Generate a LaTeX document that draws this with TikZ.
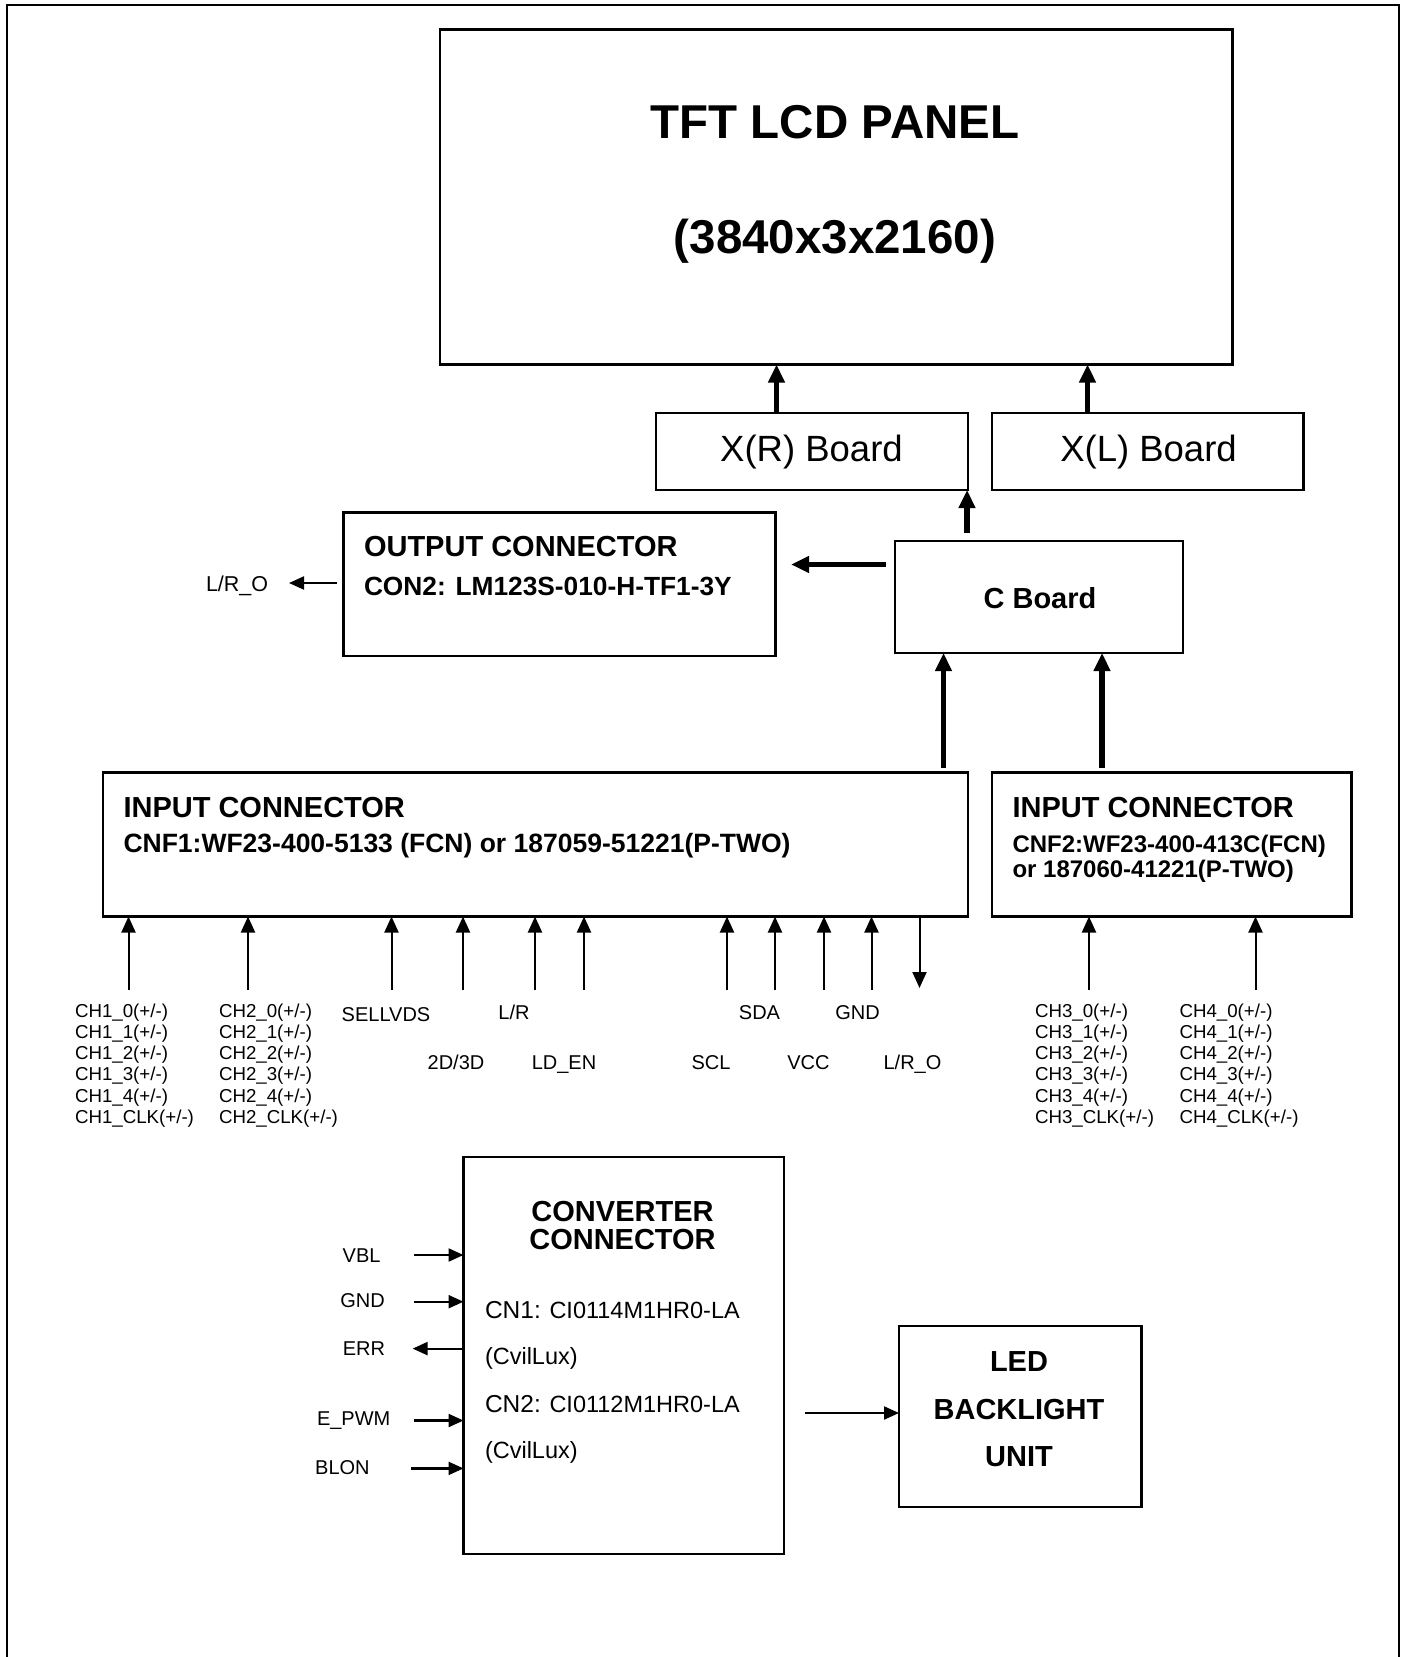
\documentclass[tikz,border=0pt]{standalone}
\usepackage{fontspec}
\setmainfont{Liberation Sans}
\usetikzlibrary{arrows.meta}
\newcommand\myfs[1]{\fontsize{#1}{#1}\selectfont}
\begin{document}
\begin{tikzpicture}[x=1pt,y=-1pt,
  box/.style={draw, line width=2.5pt, inner sep=0pt, outer sep=0pt},
  txt/.style={inner sep=0pt, outer sep=0pt},
  ttl/.style={txt, font=\myfs{29}\bfseries},
  chl/.style={txt, anchor=base west, font=\myfs{18.7}},
  sig/.style={txt, anchor=base, font=\myfs{20}},
  tarrow/.style={line width=5.5pt, -{Triangle[length=18pt,width=16pt]}},
  sarrow/.style={line width=2pt, -{Triangle[length=16pt,width=14pt]}},
  larrow/.style={line width=2.2pt, -{Triangle[length=15pt,width=13pt]}},
]
\useasboundingbox (0,0) rectangle (1403,1657);
% frame
\draw[line width=2pt] (7,1680) -- (7,4.5) -- (1399,4.5) -- (1399,1680);

% boxes
\node[box, minimum width=792.5pt, minimum height=335pt] (panel) at (836.25,197) {};
\node[box, minimum width=312pt, minimum height=77pt] (xr) at (812,451.5) {};
\node[box, minimum width=311.5pt, minimum height=77pt] (xl) at (1147.75,451.5) {};
\node[box, minimum width=432pt, minimum height=143.5pt] (out) at (559.5,584.25) {};
\node[box, minimum width=288pt, minimum height=112pt] (cb) at (1039,597) {};
\node[box, minimum width=865pt, minimum height=144pt] (in1) at (535.5,844.5) {};
\node[box, minimum width=359.5pt, minimum height=144pt] (in2) at (1171.75,844.5) {};
\node[box, minimum width=320.5pt, minimum height=397pt] (conv) at (623.75,1355.5) {};
\node[box, minimum width=242.5pt, minimum height=181pt] (led) at (1020.25,1416.5) {};

% texts
\node[txt, anchor=base, font=\myfs{47.5}\bfseries] (panelA) at (835,138) {TFT LCD PANEL};
\node[txt, anchor=base, font=\myfs{47.5}\bfseries] (panelB) at (835,253) {(3840x3x2160)};
\node[txt, anchor=base, font=\myfs{36.5}] (xrT) at (811.5,461) {X(R) Board};
\node[txt, anchor=base, font=\myfs{36.5}] (xlT) at (1148.5,461) {X(L) Board};
\node[ttl, anchor=base west] (outA) at (364,556) {OUTPUT CONNECTOR};
\node[txt, anchor=base west, font=\myfs{26.3}\bfseries] (outB) at (364,595) {CON2: LM123S-010-H-TF1-3Y};
\node[ttl, anchor=base] (cbT) at (1040,608) {C Board};
\node[ttl, anchor=base west] (in1A) at (123.5,817) {INPUT CONNECTOR};
\node[txt, anchor=base west, font=\myfs{26.5}\bfseries] (in1B) at (123.5,852) {CNF1:WF23-400-5133 (FCN) or 187059-51221(P-TWO)};
\node[ttl, anchor=base west] (in2A) at (1012.5,817) {INPUT CONNECTOR};
\node[txt, anchor=base west, font=\myfs{24}\bfseries] (in2B) at (1012.5,852.5) {CNF2:WF23-400-413C(FCN)};
\node[txt, anchor=base west, font=\myfs{24}\bfseries] (in2C) at (1012.5,877) {or 187060-41221(P-TWO)};
\node[txt, anchor=base west, font=\myfs{21.5}] (lro) at (206,591.5) {L/R\_O};

\node[ttl, anchor=base] (convA) at (622.5,1221) {CONVERTER};
\node[ttl, anchor=base] (convB) at (622.5,1249) {CONNECTOR};
\node[txt, anchor=base west, font=\myfs{23.5}] (cn1) at (485,1318) {{\myfs{24.5}CN1:} CI0114M1HR0-LA};
\node[txt, anchor=base west, font=\myfs{23.5}] (cv1) at (485,1364) {(CvilLux)};
\node[txt, anchor=base west, font=\myfs{23.5}] (cn2) at (485,1412) {{\myfs{24.5}CN2:} CI0112M1HR0-LA};
\node[txt, anchor=base west, font=\myfs{23.5}] (cv2) at (485,1458.5) {(CvilLux)};
\node[ttl, anchor=base] (ledA) at (1019,1371) {LED};
\node[ttl, anchor=base] (ledB) at (1019,1419) {BACKLIGHT};
\node[ttl, anchor=base] (ledC) at (1019,1466) {UNIT};

% channel labels
\foreach \t [count=\i from 0] in {0,1,2,3,4,CLK} {
  \node[chl] (ca\i) at (75,1017+21.3*\i) {CH1\_\t(+/-)};
  \node[chl] (cb\i) at (219,1017+21.3*\i) {CH2\_\t(+/-)};
  \node[chl] (cc\i) at (1035,1017+21.3*\i) {CH3\_\t(+/-)};
  \node[chl] (cd\i) at (1179.5,1017+21.3*\i) {CH4\_\t(+/-)};
}
\node[sig] (sel) at (386,1021.5) {SELLVDS};
\node[sig] (lr) at (514,1019.3) {L/R};
\node[sig] (sda) at (759.5,1019.3) {SDA};
\node[sig] (gnd) at (857.5,1019.3) {GND};
\node[sig] (dd) at (456,1069) {2D/3D};
\node[sig] (lden) at (564,1069) {LD\_EN};
\node[sig] (scl) at (711,1069) {SCL};
\node[sig] (vcc) at (808.5,1069) {VCC};
\node[sig] (lro2) at (912.5,1069) {L/R\_O};

% converter side labels
\node[sig] (vbl) at (361.6,1262) {VBL};
\node[sig] (gnd2) at (362.6,1307) {GND};
\node[sig] (err) at (364,1355) {ERR};
\node[sig] (epwm) at (353.7,1425.5) {E\_PWM};
\node[sig] (blon) at (342.4,1474) {BLON};

% thick arrows
\draw[tarrow] ([xshift=-35.5pt]xr.north) -- ([xshift=-35.5pt]xr.north |- panel.south);
\draw[tarrow] ([xshift=-60.25pt]xl.north) -- ([xshift=-60.25pt]xl.north |- panel.south);
\coordinate (cbTop) at (967,533);
\draw[tarrow] (cbTop) -- (cbTop |- xr.south);
\coordinate (cbLeft) at (886,564.5);
\coordinate (outTip) at (791,564.5);
\draw[tarrow] (cbLeft) -- (outTip);
\coordinate (in1Top) at (943.5,768);
\coordinate (in2Top) at (1102,768);
\draw[tarrow] (in1Top) -- (in1Top |- cb.south);
\draw[tarrow] (in2Top) -- (in2Top |- cb.south);

% output L/R_O arrow
\coordinate (lroS) at (337,583);
\coordinate (lroT) at (289,583);
\draw[larrow] (lroS) -- (lroT);

% signal arrows into input connectors
\foreach \x in {128.5,248,391.5,463,535,584,727,775,824,871.5} {
  \draw[sarrow] (\x,990) -- (\x,916.5);
}
\foreach \x in {1089,1255.5} {
  \draw[sarrow] (\x,990) -- (\x,916.5);
}
\draw[sarrow] (919.5,916.5) -- (919.5,988);

% converter arrows
\foreach \y/\xs in {1255/414,1301.7/414,1420.5/414,1468.4/411} {
  \draw[larrow] (\xs,\y) -- (conv.west |- 0,\y);
}
\draw[larrow] (conv.west |- 0,1348.6) -- (412.6,1348.6);
\coordinate (convOut) at (805,1413);
\draw[larrow] (convOut) -- (convOut -| led.west);
\end{tikzpicture}
\end{document}
